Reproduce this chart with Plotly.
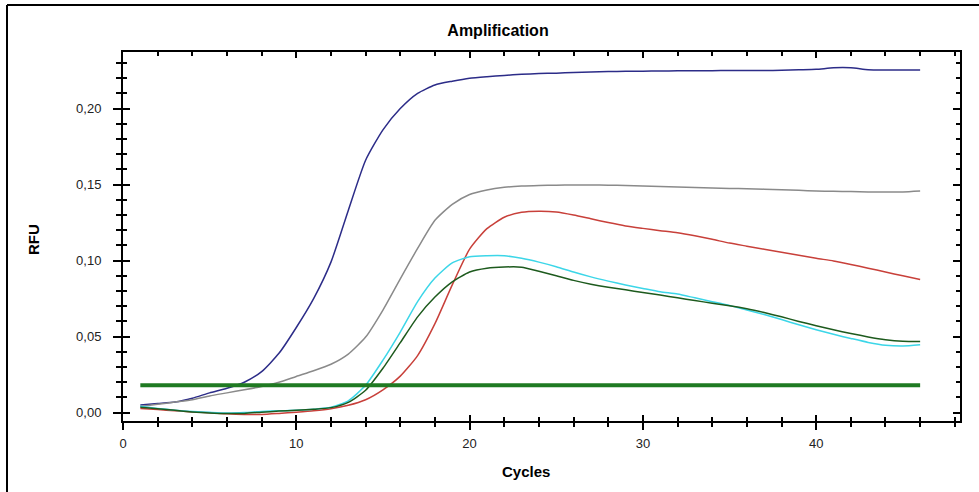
import plotly.graph_objects as go

cycles = list(range(1, 47))

navy = [0.005, 0.006, 0.007, 0.0095, 0.013, 0.016, 0.020, 0.027, 0.039, 0.056,
        0.075, 0.099, 0.133, 0.166, 0.186, 0.200, 0.210, 0.2155, 0.218, 0.2200,
        0.2210, 0.2218, 0.2225, 0.2230, 0.2233, 0.2237, 0.2240, 0.2243, 0.2245, 0.2246,
        0.2247, 0.2248, 0.2248, 0.2249, 0.2250, 0.2250, 0.2250, 0.2252, 0.2255, 0.2258,
        0.2268, 0.2268, 0.2255, 0.2253, 0.2253, 0.2253]

gray = [0.004, 0.0055, 0.007, 0.0085, 0.011, 0.013, 0.0150, 0.0172, 0.0200, 0.0238,
        0.0275, 0.0318, 0.0385, 0.0497, 0.0675, 0.088, 0.108, 0.1265, 0.137, 0.1435,
        0.1465, 0.1482, 0.1490, 0.1494, 0.1496, 0.1497, 0.1497, 0.1496, 0.1494, 0.1490,
        0.1487, 0.1484, 0.1480, 0.1478, 0.1475, 0.1472, 0.1470, 0.1466, 0.1462, 0.1458,
        0.1456, 0.1454, 0.1452, 0.1452, 0.1452, 0.1458]

red = [0.0028, 0.0020, 0.0012, 0.0005, 0.0, -0.0008, -0.0012, -0.0012, -0.0005, 0.0003,
       0.0012, 0.0025, 0.0048, 0.0085, 0.0150, 0.0240, 0.0375, 0.0585, 0.0840, 0.1075,
       0.1210, 0.1285, 0.1318, 0.1325, 0.1320, 0.1300, 0.1275, 0.1250, 0.1228, 0.1212,
       0.1197, 0.1183, 0.1163, 0.1140, 0.1115, 0.1095, 0.1075, 0.1055, 0.1035, 0.1015,
       0.0998, 0.0975, 0.0950, 0.0925, 0.0900, 0.0875]

cyan = [0.0042, 0.0028, 0.0016, 0.0007, 0.0002, -0.0002, 0.0001, 0.0008, 0.0012, 0.0015,
        0.0022, 0.0035, 0.0078, 0.0180, 0.0345, 0.0530, 0.0730, 0.0885, 0.0985, 0.1025,
        0.1032, 0.1032, 0.1015, 0.0990, 0.0960, 0.0925, 0.0893, 0.0865, 0.0840, 0.0817,
        0.0795, 0.0780, 0.0755, 0.0730, 0.0705, 0.0675, 0.0645, 0.0612, 0.0578, 0.0545,
        0.0515, 0.0488, 0.0462, 0.0443, 0.0438, 0.0446]

green = [0.0035, 0.0025, 0.0015, 0.0005, -0.0002, -0.0006, -0.0005, 0.0003, 0.0010, 0.0015,
         0.0022, 0.0033, 0.0068, 0.0147, 0.0292, 0.0460, 0.0630, 0.0760, 0.0860, 0.0925,
         0.0950, 0.0958, 0.0957, 0.0930, 0.0900, 0.0870, 0.0845, 0.0825, 0.0808, 0.0790,
         0.0773, 0.0755, 0.0737, 0.0720, 0.0703, 0.0683, 0.0658, 0.0630, 0.0600, 0.0572,
         0.0545, 0.0520, 0.0498, 0.0480, 0.0470, 0.0468]

threshold = 0.018

series = [
    ("navy", navy, "#2c2c88"),
    ("gray", gray, "#8a8a8a"),
    ("red", red, "#c8403a"),
    ("cyan", cyan, "#3cd6e8"),
    ("green", green, "#1d5a1d"),
]

y_ticks = [0.0, 0.05, 0.10, 0.15, 0.20]
x_ticks = [0, 10, 20, 30, 40]

X_RANGE = [0, 48.3]
Y_RANGE = [-0.0055, 0.2372]

fig = go.Figure()
for name, vals, col in series:
    fig.add_trace(go.Scatter(x=cycles, y=vals, mode="lines", name=name,
                             line=dict(color=col, width=1.5, shape="spline", smoothing=0.6),
                             showlegend=False))

fig.add_trace(go.Scatter(x=[cycles[0], cycles[-1]], y=[threshold, threshold], mode="lines",
                         line=dict(color="#1f7a22", width=4), showlegend=False, name="threshold"))

# helper trace for overlay axes (inside ticks)
fig.add_trace(go.Scatter(x=[None], y=[None], xaxis="x2", yaxis="y2", showlegend=False,
                         hoverinfo="skip"))

font_ticks = dict(family="Liberation Sans, Arial", size=13, color="#222222")

fig.update_layout(
    width=979, height=492,
    margin=dict(l=123, r=19, t=52, b=71),
    paper_bgcolor="white", plot_bgcolor="white",
    separators=", ",
    showlegend=False,
    title=dict(text="<b>Amplification</b>", x=498 / 979, y=1 - 30 / 492,
               xref="container", yref="container", xanchor="center", yanchor="middle",
               font=dict(family="Liberation Sans, Arial", size=16, color="black")),
    xaxis=dict(range=X_RANGE, tickvals=x_ticks, ticks="outside", ticklen=7, tickwidth=2,
               tickcolor="black", showline=True, linecolor="black", linewidth=2,
               showgrid=False, zeroline=False, tickfont=font_ticks, ticklabelstandoff=2,
               minor=dict(dtick=2, tick0=0, ticks="outside", ticklen=4, tickwidth=1.5,
                          tickcolor="black", showgrid=False)),
    yaxis=dict(range=Y_RANGE, tickvals=y_ticks, tickformat=".2f", ticks="outside", ticklen=8,
               tickwidth=2, tickcolor="black", showline=True, linecolor="black", linewidth=2,
               showgrid=False, zeroline=False, tickfont=font_ticks, ticklabelstandoff=9,
               minor=dict(dtick=0.01, tick0=0, ticks="outside", ticklen=5, tickwidth=1.5,
                          tickcolor="black", showgrid=False)),
    xaxis2=dict(range=X_RANGE, overlaying="x", anchor="y2", side="bottom",
                tickvals=x_ticks, showticklabels=False, ticks="inside", ticklen=6, tickwidth=2,
                tickcolor="black", showline=True, linecolor="black", linewidth=2,
                mirror="ticks", showgrid=False, zeroline=False,
                minor=dict(dtick=2, tick0=0, ticks="inside", ticklen=4, tickwidth=1.5,
                           tickcolor="black", showgrid=False)),
    yaxis2=dict(range=Y_RANGE, overlaying="y", anchor="x2", side="left",
                tickvals=y_ticks, showticklabels=False, ticks="inside", ticklen=7, tickwidth=2,
                tickcolor="black", showline=True, linecolor="black", linewidth=2,
                mirror="ticks", showgrid=False, zeroline=False,
                minor=dict(dtick=0.01, tick0=0, ticks="inside", ticklen=4, tickwidth=1.5,
                           tickcolor="black", showgrid=False)),
)

# axis titles
fig.add_annotation(text="<b>Cycles</b>", x=(526 - 123) / 837, y=(421 - 471) / 369,
                   xref="paper", yref="paper", showarrow=False, xanchor="center",
                   yanchor="middle",
                   font=dict(family="Liberation Sans, Arial", size=15, color="black"))
fig.add_annotation(text="<b>RFU</b>", x=(33 - 123) / 837, y=(421 - 240) / 369, xref="paper",
                   yref="paper", showarrow=False, textangle=-90, xanchor="center",
                   yanchor="middle",
                   font=dict(family="Liberation Sans, Arial", size=15, color="black"))

# outer frame (top and left edges visible)
fx0 = (7 - 123) / 837
fx1 = (979 - 123) / 837
fy_top = (421 - 5) / 369
fy_bot = (421 - 492) / 369
fig.add_shape(type="line", xref="paper", yref="paper", x0=fx0, x1=fx1, y0=fy_top, y1=fy_top,
              line=dict(color="black", width=2))
fig.add_shape(type="line", xref="paper", yref="paper", x0=fx0, x1=fx0, y0=fy_top, y1=fy_bot,
              line=dict(color="black", width=2))

fig.write_html("out.html")
